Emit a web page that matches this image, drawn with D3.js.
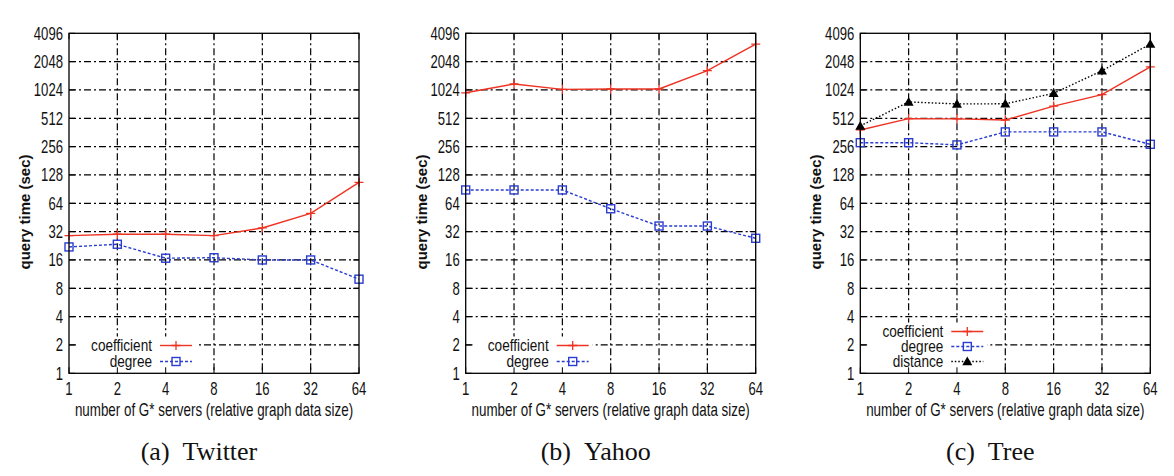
<!DOCTYPE html>
<html>
<head>
<meta charset="utf-8">
<script src="https://cdn.jsdelivr.net/npm/d3@7"></script>
<style>
  html, body { margin: 0; padding: 0; background: #fff; }
  svg { display: block; }
  .tick-label, .legend-text, .x-label { font-family: 'Liberation Sans', Arial, sans-serif; font-size: 17.5px; fill: #111; }
  .legend-text { font-size: 16px; }
  .y-label { font-family: 'Liberation Sans', Arial, sans-serif; font-weight: bold; font-size: 15px; fill: #111; }
  .caption { font-family: 'Liberation Serif', 'Times New Roman', serif; font-size: 26px; fill: #111; }
</style>
</head>
<body>
<svg id="chart" width="1174" height="476"></svg>
<script>
// ---------- data ----------
const xTicks = [1, 2, 4, 8, 16, 32, 64];
const yTicks = [1, 2, 4, 8, 16, 32, 64, 128, 256, 512, 1024, 2048, 4096];

const twitterCoefficient = [29, 30, 30, 29, 35, 50, 107];
const twitterDegree      = [22, 23.5, 16.7, 16.9, 16, 16, 10];

const yahooCoefficient = [956, 1185, 1040, 1048, 1048, 1640, 3150];
const yahooDegree      = [88.7, 88.7, 88.7, 56, 36.7, 36.7, 27.2];

const treeCoefficient = [385, 508, 505, 491, 690, 912, 1800];
const treeDegree      = [282, 282, 267, 367, 367, 367, 271];
const treeDistance    = [425, 764, 728, 730, 943, 1640, 3150];

const captions = ["(a)\u00A0\u00A0Twitter", "(b)\u00A0\u00A0Yahoo", "(c)\u00A0\u00A0Tree"];
const xAxisTitle = "number of G* servers (relative graph data size)";
const yAxisTitle = "query time (sec)";

// ---------- styles ----------
const styles = {
  coefficient: { color: "#ee3322", dash: null, marker: "plus" },
  degree:      { color: "#2a3dd0", dash: "3,2", marker: "square" },
  distance:    { color: "#000000", dash: "1.5,2", marker: "triangle" }
};

const panels = [
  { left: 69,    series: [["coefficient", twitterCoefficient], ["degree", twitterDegree]], caption: captions[0] },
  { left: 465.7, series: [["coefficient", yahooCoefficient], ["degree", yahooDegree]], caption: captions[1] },
  { left: 860.3, series: [["coefficient", treeCoefficient], ["degree", treeDegree], ["distance", treeDistance]], caption: captions[2] }
];

const svg = d3.select("#chart");
const plotW = 290, plotTop = 33.3, plotBottom = 373.3;

function narrowText(g, cls, x, y, txt, anchor, baseline, sx) {
  const t = g.append("text").attr("class", cls)
    .attr("transform", `translate(${x},${y}) scale(${sx},1)`)
    .attr("text-anchor", anchor).text(txt);
  if (baseline) t.attr("dominant-baseline", baseline);
  return t;
}

function drawMarker(g, type, cx, cy, color) {
  if (type === "plus") {
    const s = 4.5;
    g.append("path").attr("d", `M${cx - s},${cy}H${cx + s}M${cx},${cy - s}V${cy + s}`)
      .attr("stroke", color).attr("stroke-width", 1.3).attr("fill", "none");
  } else if (type === "square") {
    const s = 4;
    g.append("rect").attr("x", cx - s).attr("y", cy - s).attr("width", 2 * s).attr("height", 2 * s)
      .attr("stroke", color).attr("stroke-width", 1.4).attr("fill", "none");
  } else if (type === "triangle") {
    const s = 5;
    g.append("path").attr("d", `M${cx},${cy - s}L${cx + s},${cy + s * 0.75}L${cx - s},${cy + s * 0.75}Z`)
      .attr("fill", color);
  }
}

panels.forEach((p) => {
  const L = p.left, R = p.left + plotW;
  const x = d3.scaleLog().base(2).domain([1, 64]).range([L, R]);
  const y = d3.scaleLog().base(2).domain([1, 4096]).range([plotBottom, plotTop]);
  const g = svg.append("g");

  // grid
  const grid = g.append("g").attr("stroke", "#000").attr("stroke-width", 1.2)
    .attr("stroke-dasharray", "7,3,2,3");
  yTicks.slice(1, -1).forEach(t => {
    grid.append("line").attr("x1", L).attr("x2", R).attr("y1", y(t)).attr("y2", y(t));
  });
  xTicks.slice(1, -1).forEach(t => {
    grid.append("line").attr("y1", plotTop).attr("y2", plotBottom).attr("x1", x(t)).attr("x2", x(t));
  });

  // legend box (opaque)
  const nLeg = p.series.length;
  const legRowH = nLeg === 3 ? 15 : 16;
  const legLastY = 361.5;
  const legTop = legLastY - (nLeg - 1) * legRowH - 9;
  g.append("rect").attr("x", L + 7).attr("y", legTop).attr("width", 120)
    .attr("height", plotBottom - legTop - 1).attr("fill", "#fff");

  // tick marks (inside, all sides)
  const tk = g.append("g").attr("stroke", "#000").attr("stroke-width", 1);
  yTicks.forEach(t => {
    tk.append("line").attr("x1", L).attr("x2", L + 6).attr("y1", y(t)).attr("y2", y(t));
    tk.append("line").attr("x1", R).attr("x2", R - 6).attr("y1", y(t)).attr("y2", y(t));
  });
  xTicks.forEach(t => {
    tk.append("line").attr("x1", x(t)).attr("x2", x(t)).attr("y1", plotBottom).attr("y2", plotBottom - 6);
    tk.append("line").attr("x1", x(t)).attr("x2", x(t)).attr("y1", plotTop).attr("y2", plotTop + 6);
  });

  // series
  p.series.forEach(([name, vals]) => {
    const st = styles[name];
    const pts = xTicks.map((xv, i) => [x(xv), y(vals[i])]);
    g.append("path").attr("d", d3.line()(pts)).attr("fill", "none")
      .attr("stroke", st.color).attr("stroke-width", 1.4)
      .attr("stroke-dasharray", st.dash);
    pts.forEach(([cx, cy]) => drawMarker(g, st.marker, cx, cy, st.color));
  });

  // border
  g.append("rect").attr("x", L).attr("y", plotTop).attr("width", plotW).attr("height", plotBottom - plotTop)
    .attr("fill", "none").attr("stroke", "#000").attr("stroke-width", 1.3);

  // y tick labels
  yTicks.forEach(t => narrowText(g, "tick-label", L - 6, y(t), t, "end", "central", 0.75));
  // x tick labels
  xTicks.forEach(t => narrowText(g, "tick-label", x(t), 394.5, t, "middle", null, 0.75));

  // axis titles
  const cx = (L + R) / 2;
  narrowText(g, "x-label", cx, 415.5, xAxisTitle, "middle", null, 0.765);
  g.append("text").attr("class", "y-label")
    .attr("transform", `translate(${L - 39},${212}) rotate(-90)`)
    .attr("text-anchor", "middle").text(yAxisTitle);

  // caption
  g.append("text").attr("class", "caption").attr("x", cx - 15).attr("y", 460)
    .attr("text-anchor", "middle").text(p.caption);

  // legend
  p.series.forEach(([name], i) => {
    const st = styles[name];
    const ly = legLastY - (nLeg - 1 - i) * legRowH;
    narrowText(g, "legend-text", L + 83, ly, name, "end", "central", 0.85);
    g.append("line").attr("x1", L + 91).attr("x2", L + 123).attr("y1", ly).attr("y2", ly)
      .attr("stroke", st.color).attr("stroke-width", 1.4).attr("stroke-dasharray", st.dash);
    drawMarker(g, st.marker, L + 107, ly, st.color);
  });
});
</script>
</body>
</html>
